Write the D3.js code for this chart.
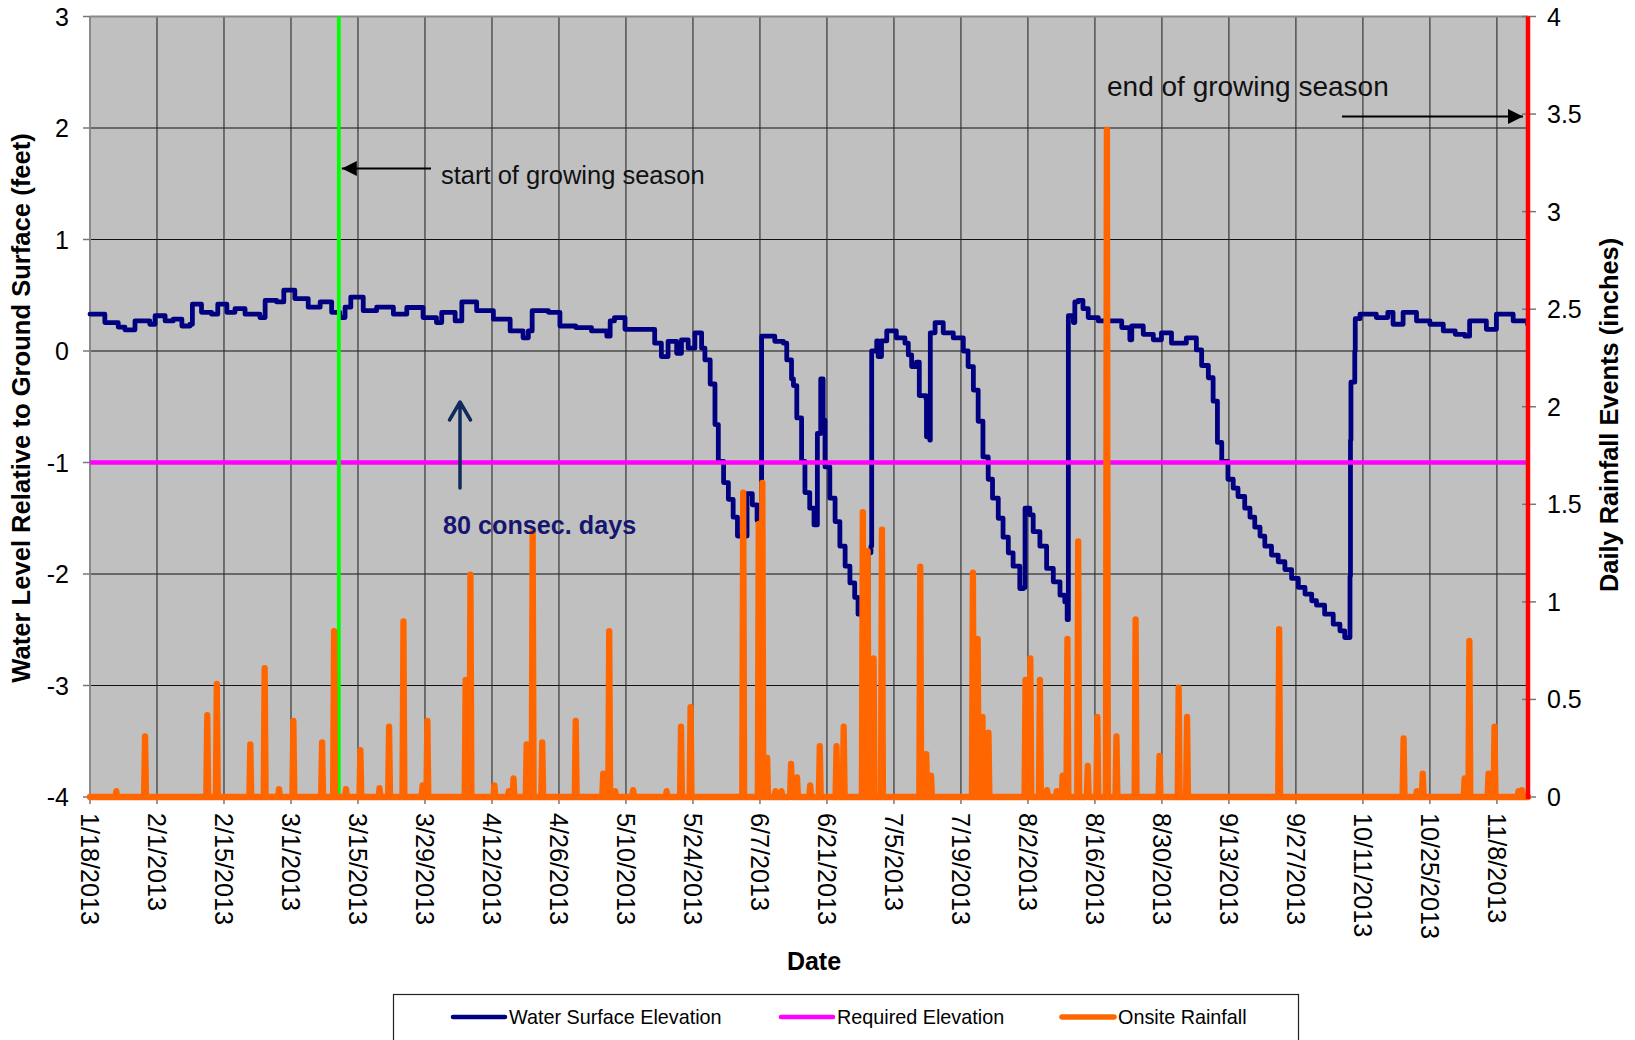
<!DOCTYPE html>
<html><head><meta charset="utf-8">
<script src="https://cdn.jsdelivr.net/npm/d3@7"></script>
<style>
body{margin:0;background:#fff}
svg{display:block}
text{font-family:"Liberation Sans",Arial,Helvetica,sans-serif}
</style>
</head><body>
<svg id="c" width="1635" height="1040"></svg>
<script>
// ---------- data ----------
const startDate = "2013-01-18T00:00";
const endDate = "2013-11-14T12:00";
const growingSeasonStart = "2013-03-11T00:00";
const growingSeasonEnd = "2013-11-14T12:00";
const tickLabels = ["1/18/2013","2/1/2013","2/15/2013","3/1/2013","3/15/2013","3/29/2013","4/12/2013","4/26/2013","5/10/2013","5/24/2013","6/7/2013","6/21/2013","7/5/2013","7/19/2013","8/2/2013","8/16/2013","8/30/2013","9/13/2013","9/27/2013","10/11/2013","10/25/2013","11/8/2013"];
const leftTicks = [3,2,1,0,-1,-2,-3,-4];
const rightTicks = [0,0.5,1,1.5,2,2.5,3,3.5,4];
const requiredElevation = -1;
const seriesNames = ["Water Surface Elevation","Required Elevation","Onsite Rainfall"];

// water level: days since start date, feet relative to ground surface
const waterDays = [0,0.35,3.1,5.9,7.3,9.4,12.5,13.6,15.7,17.4,19.2,20.9,21.4,23.3,25.4,26.7,28.6,30.3,32.4,35.5,36.6,39.0,40.5,42.8,45.6,48.1,50.5,52.2,53.3,54.5,57.1,59.9,63.4,66.2,69.6,72.4,73.5,76.3,77.7,80.8,84.3,87.8,90.5,91.6,92.4,95.8,98.2,101.5,104.8,108.0,108.7,109.6,111.8,115.3,118.0,119.4,120.8,122.6,123.6,125.0,126.4,127.8,128.5,129.6,130.6,131.3,132.4,133.4,134.4,135.3,137.3,138.4,139.4,140.2,140.35,143.1,144.9,145.6,146.6,147.0,147.7,148.7,149.4,150.4,151.3,152.0,152.7,153.2,153.6,154.6,155.7,156.7,157.8,158.8,159.8,160.5,161.5,162.6,163.2,163.35,164.4,164.7,165.4,166.5,168.5,170.3,171.0,171.7,172.7,173.3,174.7,174.8,175.5,175.6,176.6,178.3,180.4,182.5,183.5,184.6,185.6,186.6,187.7,188.6,189.8,190.8,191.9,192.9,194.3,195.1,195.4,196.4,197.1,198.5,199.9,201.3,202.7,203.7,204.2,204.45,205.5,205.8,206.5,207.5,208.6,210.7,213.5,215.6,217.3,217.7,220.1,222.2,223.9,226.0,229.1,231.2,232.3,233.7,234.7,235.6,236.5,237.8,238.9,239.9,241.3,242.4,243.4,244.5,245.5,246.9,248.3,249.7,251.1,252.5,253.9,255.3,256.3,258.0,259.8,261.2,262.2,263.3,263.4,263.5,264.3,264.4,265.4,268.8,271.2,272.3,274.4,277.2,280.0,282.8,285.3,287.3,288.3,291.8,293.9,297.4,300.4];
const waterLevels = [0.33,0.33,0.255,0.215,0.19,0.27,0.24,0.316,0.27,0.285,0.224,0.24,0.42,0.347,0.33,0.42,0.347,0.38,0.33,0.30,0.454,0.44,0.546,0.47,0.393,0.44,0.347,0.30,0.393,0.484,0.362,0.393,0.33,0.39,0.30,0.255,0.347,0.27,0.44,0.362,0.285,0.18,0.118,0.18,0.362,0.347,0.224,0.21,0.18,0.133,0.27,0.30,0.194,0.194,0.07,-0.05,0.087,-0.02,0.10,0.025,0.163,0.025,-0.08,-0.296,-0.66,-0.99,-1.18,-1.33,-1.49,-1.66,-1.28,-1.38,-1.52,-1.55,0.133,0.087,0.07,-0.08,-0.25,-0.31,-0.60,-0.99,-1.27,-1.41,-1.56,-0.74,-0.25,-0.62,-1.04,-1.32,-1.53,-1.75,-1.93,-2.08,-2.21,-2.36,-2.30,-1.81,-1.75,0.0,0.09,-0.05,0.09,0.18,0.117,0.07,-0.035,-0.14,-0.10,-0.40,-0.43,-0.77,-0.80,0.163,0.255,0.163,0.117,0.0,-0.14,-0.35,-0.63,-0.95,-1.15,-1.32,-1.50,-1.67,-1.81,-1.93,-2.13,-2.12,-1.41,-1.47,-1.62,-1.75,-1.95,-2.07,-2.19,-2.25,-2.41,0.316,0.255,0.44,0.454,0.38,0.30,0.27,0.27,0.21,0.10,0.224,0.15,0.10,0.163,0.07,0.117,0.01,-0.13,-0.24,-0.45,-0.82,-0.99,-1.15,-1.23,-1.305,-1.41,-1.49,-1.58,-1.66,-1.75,-1.83,-1.89,-1.96,-2.04,-2.12,-2.18,-2.24,-2.28,-2.36,-2.45,-2.51,-2.57,-2.02,-0.80,-0.28,0.0,0.29,0.33,0.30,0.347,0.24,0.347,0.27,0.24,0.18,0.15,0.133,0.27,0.194,0.33,0.27,0.24];

// daily rainfall events: days since start date, inches
const rainDays = [5.5,11.5,24.5,26.5,33.5,36.5,39.5,42.5,48.5,51.0,53.5,56.5,60.5,62.5,65.5,69.5,70.5,78.5,79.5,84.5,87.5,88.5,91.25,92.5,94.5,101.5,107.25,108.5,109.75,113.5,120.5,123.5,125.5,136.5,139.75,140.5,141.5,143.25,144.5,146.5,147.75,150.5,152.5,156.0,157.5,161.5,162.5,163.75,165.5,173.5,174.75,175.75,184.5,185.5,186.5,187.75,195.5,196.5,198.5,200.0,202.0,203.25,204.25,206.5,208.5,210.5,212.5,214.5,218.5,223.5,227.5,229.25,248.5,274.5,277.25,278.5,287.25,288.25,292.25,293.5,298.5,299.25];
const rainInches = [0.03,0.31,0.42,0.58,0.27,0.66,0.04,0.39,0.28,0.85,0.04,0.24,0.045,0.36,0.90,0.06,0.39,0.60,1.14,0.06,0.03,0.095,0.27,1.36,0.28,0.39,0.12,0.85,0.03,0.035,0.03,0.36,0.46,1.56,1.40,1.61,0.2,0.03,0.03,0.17,0.10,0.06,0.26,0.26,0.36,1.46,1.26,0.71,1.37,1.18,0.22,0.11,1.15,0.81,0.41,0.33,0.60,0.71,0.60,0.035,0.03,0.11,0.81,1.31,0.16,0.41,3.42,0.31,0.91,0.21,0.56,0.41,0.86,0.30,0.03,0.12,0.095,0.80,0.12,0.36,0.03,0.035];

// ---------- chart ----------
const svg = d3.select("#c");
const L = 90, R = 1528, T = 16.5, B = 797;
const parseISO = d3.utcParse("%Y-%m-%dT%H:%M");
const parseTick = d3.utcParse("%m/%d/%Y");
const t0 = parseISO(startDate);
const dayToDate = d => new Date(t0.getTime() + d * 864e5);

const x = d3.scaleUtc().domain([t0, parseISO(endDate)]).range([L, R]);
const yL = d3.scaleLinear().domain([-4, 3]).range([B, T]);
const yR = d3.scaleLinear().domain([0, 4]).range([B, T]);
const tickDates = tickLabels.map(parseTick);

// plot background
svg.append("rect").attr("x", L).attr("y", T).attr("width", R - L).attr("height", B - T)
  .attr("fill", "#c0c0c0");

// gridlines
const grid = svg.append("g");
grid.selectAll("line.h").data(leftTicks).join("line")
  .attr("x1", L).attr("x2", R).attr("y1", d => yL(d)).attr("y2", d => yL(d))
  .attr("stroke", "#111").attr("stroke-width", 1.1);
grid.selectAll("line.v").data(tickDates.slice(1)).join("line")
  .attr("x1", d => x(d)).attr("x2", d => x(d)).attr("y1", T).attr("y2", B)
  .attr("stroke", "#2a2a2a").attr("stroke-width", 1.1);

// plot border (top / left)
svg.append("line").attr("x1", L).attr("x2", R).attr("y1", T).attr("y2", T).attr("stroke", "#8a8a8a").attr("stroke-width", 2);
svg.append("line").attr("x1", L).attr("x2", L).attr("y1", T).attr("y2", B).attr("stroke", "#8a8a8a").attr("stroke-width", 2);

// left axis
const leftAxis = svg.append("g");
leftAxis.selectAll("line").data(leftTicks).join("line")
  .attr("x1", L - 7).attr("x2", L).attr("y1", d => yL(d)).attr("y2", d => yL(d))
  .attr("stroke", "#777").attr("stroke-width", 1.5);
leftAxis.selectAll("text").data(leftTicks).join("text")
  .attr("x", 69).attr("y", d => yL(d)).attr("dy", "0.36em")
  .attr("text-anchor", "end").attr("font-size", 25).attr("fill", "#000")
  .text(d => d3.format("d")(d).replace("−", "-"));

// right axis
const rightAxis = svg.append("g");
rightAxis.selectAll("line").data(rightTicks).join("line")
  .attr("x1", R - 6).attr("x2", R + 8).attr("y1", d => yR(d)).attr("y2", d => yR(d))
  .attr("stroke", "#777").attr("stroke-width", 1.5);
rightAxis.selectAll("text").data(rightTicks).join("text")
  .attr("x", 1547).attr("y", d => yR(d)).attr("dy", "0.36em")
  .attr("text-anchor", "start").attr("font-size", 25).attr("fill", "#000")
  .text(d => String(d));

// bottom axis ticks + labels
const bottomAxis = svg.append("g");
bottomAxis.selectAll("line").data(tickDates).join("line")
  .attr("x1", d => x(d)).attr("x2", d => x(d)).attr("y1", B).attr("y2", B + 7)
  .attr("stroke", "#777").attr("stroke-width", 1.5);
bottomAxis.selectAll("text").data(tickLabels).join("text")
  .attr("transform", (d, i) => `translate(${x(tickDates[i])},${B + 16}) rotate(90)`)
  .attr("dy", "0.36em").attr("text-anchor", "start")
  .attr("font-size", 25.2).attr("fill", "#000")
  .text(d => d);

// water surface elevation (logger readings: stair-stepped)
const waterData = waterDays.map((d, i) => ({ date: dayToDate(d), v: waterLevels[i] }));
svg.append("path").datum(waterData)
  .attr("d", d3.line().curve(d3.curveStepAfter).x(d => x(d.date)).y(d => yL(d.v)))
  .attr("fill", "none").attr("stroke", "#000080").attr("stroke-width", 4.8)
  .attr("stroke-linejoin", "round").attr("stroke-linecap", "round");

// required elevation
svg.append("path").datum([t0, parseISO(endDate)])
  .attr("d", d3.line().x(d => x(d)).y(() => yL(requiredElevation)))
  .attr("stroke", "#ff00ff").attr("stroke-width", 4.5).attr("fill", "none");

// start of growing season line
svg.append("line")
  .attr("x1", x(parseISO(growingSeasonStart))).attr("x2", x(parseISO(growingSeasonStart)))
  .attr("y1", T).attr("y2", B).attr("stroke", "#00ff00").attr("stroke-width", 3.8);

// onsite rainfall spikes
const rainPts = [{ date: t0, v: 0 }];
rainDays.forEach((d, i) => {
  rainPts.push({ date: dayToDate(d - 0.2), v: 0 });
  rainPts.push({ date: dayToDate(d), v: rainInches[i] });
  rainPts.push({ date: dayToDate(d + 0.2), v: 0 });
});
rainPts.push({ date: parseISO(endDate), v: 0 });
svg.append("path").datum(rainPts)
  .attr("d", d3.line().x(d => x(d.date)).y(d => yR(d.v)))
  .attr("fill", "none").attr("stroke", "#ff6600").attr("stroke-width", 6.3)
  .attr("stroke-linejoin", "round").attr("stroke-linecap", "round");

// end of growing season line (right edge)
svg.append("line")
  .attr("x1", x(parseISO(growingSeasonEnd))).attr("x2", x(parseISO(growingSeasonEnd)))
  .attr("y1", T).attr("y2", B + 2).attr("stroke", "#ff0000").attr("stroke-width", 4.5);

// annotations
const defs = svg.append("defs");
defs.append("marker").attr("id", "ah").attr("viewBox", "0 0 10 10")
  .attr("refX", 10).attr("refY", 5).attr("markerWidth", 7.5).attr("markerHeight", 7.5)
  .attr("markerUnits", "strokeWidth").attr("orient", "auto")
  .append("path").attr("d", "M0,0 L10,5 L0,10 z").attr("fill", "#000");

const gsX = x(parseISO(growingSeasonStart));
svg.append("line").attr("x1", 431).attr("y1", 168.5).attr("x2", gsX + 3).attr("y2", 168.5)
  .attr("stroke", "#000").attr("stroke-width", 2).attr("marker-end", "url(#ah)");
svg.append("text").attr("x", 441).attr("y", 184).attr("font-size", 25.5).attr("fill", "#111")
  .text("start of growing season");

const geX = x(parseISO(growingSeasonEnd));
svg.append("line").attr("x1", 1342).attr("y1", 116.5).attr("x2", geX - 5).attr("y2", 116.5)
  .attr("stroke", "#000").attr("stroke-width", 2).attr("marker-end", "url(#ah)");
svg.append("text").attr("x", 1107).attr("y", 96).attr("font-size", 28).attr("fill", "#111")
  .text("end of growing season");

// 80 consecutive days arrow + label
svg.append("path").attr("d", "M460,488 L460,403 M449.5,420 L460,402 L470.5,420")
  .attr("fill", "none").attr("stroke", "#112a5c").attr("stroke-width", 3.5)
  .attr("stroke-linecap", "round").attr("stroke-linejoin", "round");
svg.append("text").attr("x", 443).attr("y", 534).attr("font-size", 25.2).attr("font-weight", "bold")
  .attr("fill", "#161670").text("80 consec. days");

// axis titles
svg.append("text").attr("transform", "translate(21,408) rotate(-90)").attr("dy", "0.36em")
  .attr("text-anchor", "middle").attr("font-size", 25.6).attr("font-weight", "bold")
  .text("Water Level Relative to Ground Surface (feet)");
svg.append("text").attr("transform", "translate(1609,415) rotate(-90)").attr("dy", "0.36em")
  .attr("text-anchor", "middle").attr("font-size", 25.4).attr("font-weight", "bold")
  .text("Daily Rainfall Events (inches)");
svg.append("text").attr("x", 814).attr("y", 970)
  .attr("text-anchor", "middle").attr("font-size", 25).attr("font-weight", "bold")
  .text("Date");

// legend
const lg = svg.append("g");
lg.append("rect").attr("x", 393.5).attr("y", 994.5).attr("width", 905).attr("height", 60)
  .attr("fill", "#fff").attr("stroke", "#222").attr("stroke-width", 1.2);
const legendColors = ["#000080", "#ff00ff", "#ff6600"];
const legendX = [453, 781, 1062];
seriesNames.forEach((name, i) => {
  lg.append("line").attr("x1", legendX[i]).attr("x2", legendX[i] + 52)
    .attr("y1", 1017).attr("y2", 1017).attr("stroke", legendColors[i])
    .attr("stroke-width", i === 2 ? 5.5 : 4.5).attr("stroke-linecap", "round");
  lg.append("text").attr("x", legendX[i] + 56).attr("y", 1017).attr("dy", "0.36em")
    .attr("font-size", 19.8).attr("fill", "#000").text(name);
});
</script>
</body></html>
